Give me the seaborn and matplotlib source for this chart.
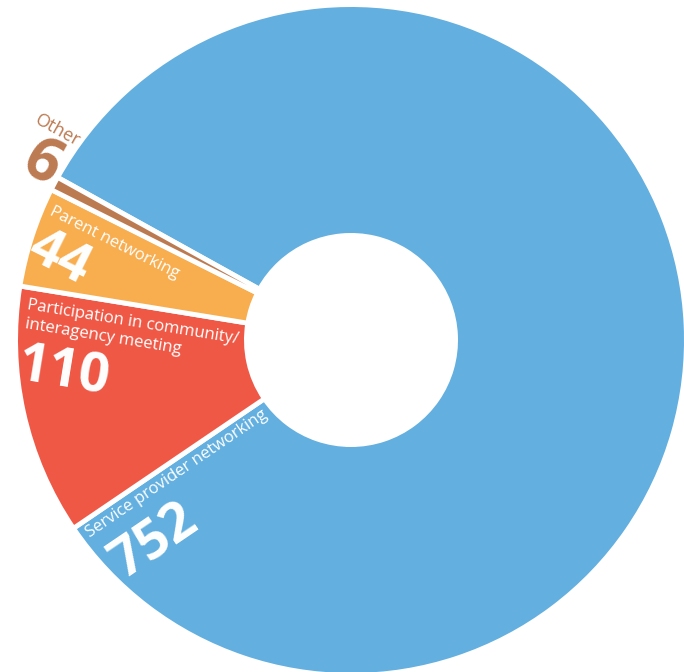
import numpy as np
import matplotlib
matplotlib.use("Agg")
import matplotlib.pyplot as plt
import seaborn as sns

categories = ["Service provider networking",
              "Participation in community/\ninteragency meeting",
              "Parent networking",
              "Other"]
counts = [752, 110, 44, 6]
colors = ["#62afe0", "#f05846", "#f8ad4e", "#bc7a51"]

sns.set_theme(style="white")
plt.rcParams["font.family"] = ["Open Sans", "DejaVu Sans"]

W, H = 684, 672
cx, cy, R = 351, 332, 333  # donut centre / radius in pixels (from bottom-left)

fig = plt.figure(figsize=(W / 100, H / 100), dpi=100)
ax = fig.add_axes([0, 0, 1, 1])

lw = 3.5
pad = lw * 100 / 72 / 2 / R
wedges, _ = ax.pie(counts, colors=colors, startangle=151, counterclock=False,
                   radius=1 + pad, wedgeprops=dict(width=1 + pad - (107 / R - pad),
                                                   edgecolor="white", linewidth=lw))
ax.set_xlim(-cx / R, (W - cx) / R)
ax.set_ylim(-cy / R, (H - cy) / R)
ax.set_aspect("equal")
ax.axis("off")


def spot(theta, r_px, d_px):
    # point along the wedge's start edge (r) and pushed into the wedge (d)
    th = np.deg2rad(theta)
    x = r_px * np.cos(th) - d_px * np.sin(th)
    y = r_px * np.sin(th) + d_px * np.cos(th)
    return x / R, y / R


# (label r, label d, number r, number d) in pixels
layout = [(327, 17, 322, 71),
          (325, 22, 324, 93),
          (327, 23, 329, 72),
          (383, -36, 356, -3)]

for w, name, n, (lr, ld, nr, nd), col in zip(wedges, categories, counts, layout, colors):
    theta = w.theta1 % 360
    rot = theta - 180
    outside = n == counts[-1]
    txt_col = col if outside else "white"
    lines = name.split("\n")
    for i, line in enumerate(lines):
        x, y = spot(theta, lr - i * 1.5, ld + i * 19)
        ax.text(x, y, line, rotation=rot, rotation_mode="anchor", ha="left",
                va="baseline", fontsize=13 if outside else 12, color=txt_col)
    x, y = spot(theta, nr, nd)
    if outside:
        ax.text(x, y, str(n), rotation=rot, rotation_mode="anchor", ha="center",
                va="center", fontsize=43, fontweight="bold", color=txt_col)
    else:
        ax.text(x, y, str(n), rotation=rot, rotation_mode="anchor", ha="left",
                va="baseline", fontsize=39, fontweight="bold", color=txt_col)

fig.savefig("out.png", dpi=100)
